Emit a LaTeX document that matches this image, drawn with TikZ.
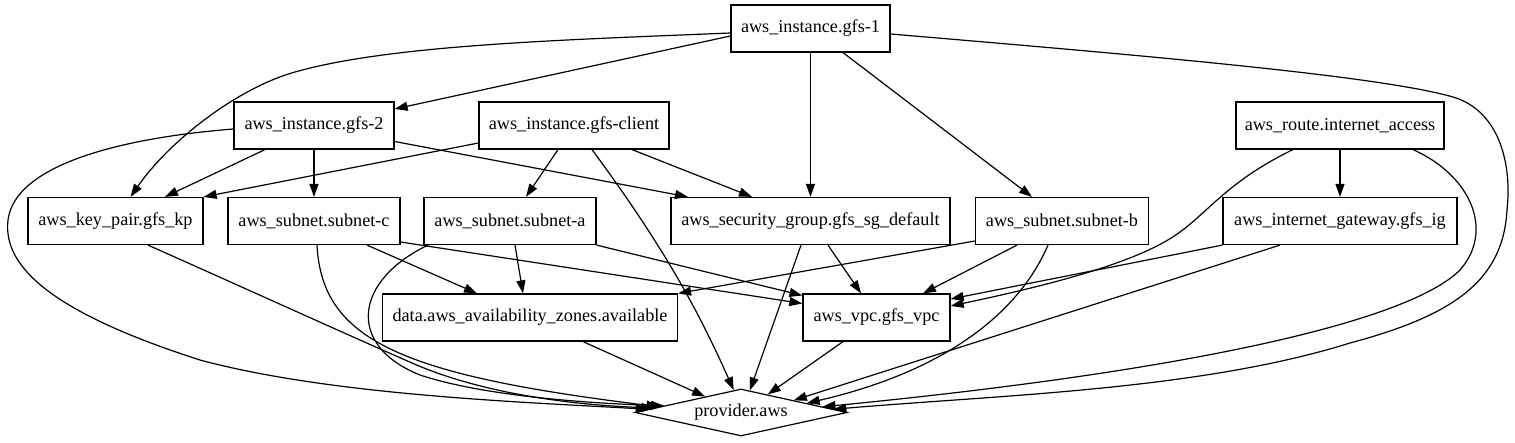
\documentclass[tikz,border=0pt]{standalone}
\usepackage{fontspec}
\setmainfont{Liberation Serif}
\usetikzlibrary{calc,arrows.meta,shapes.geometric}
\newcommand\gvfont{\fontsize{18.2pt}{22pt}\selectfont}
\tikzset{
  box/.style={draw, rectangle, minimum height=47pt, inner sep=0pt, font=\gvfont, line width=1.2pt},
  gvedge/.style={draw, line width=1.2pt, -{Triangle[length=13pt,width=9pt]}},
}
\begin{document}
\begin{tikzpicture}[x=1pt,y=-1pt]
\fill[white] (0,0) rectangle (1515,443);
\useasboundingbox (0,0) rectangle (1515,443);
% nodes
\node[box, minimum width=159pt] (g1) at (810.5,28.5) {aws\_instance.gfs-1};
\node[box, minimum width=160pt] (g2) at (314,125.5) {aws\_instance.gfs-2};
\node[box, minimum width=190pt] (gc) at (574,125.5) {aws\_instance.gfs-client};
\node[box, minimum width=208pt] (rt) at (1340,125.5) {aws\_route.internet\_access};
\node[box, minimum width=175pt] (kp) at (115.5,221) {aws\_key\_pair.gfs\_kp};
\node[box, minimum width=172pt] (sc) at (314,221) {aws\_subnet.subnet-c};
\node[box, minimum width=172pt] (sa) at (510,221) {aws\_subnet.subnet-a};
\node[box, minimum width=279pt] (sg) at (810.5,221) {aws\_security\_group.gfs\_sg\_default};
\node[box, minimum width=173pt] (sb) at (1062,221) {aws\_subnet.subnet-b};
\node[box, minimum width=234pt] (ig) at (1340,221) {aws\_internet\_gateway.gfs\_ig};
\node[box, minimum width=295pt] (az) at (530,317.5) {data.aws\_availability\_zones.available};
\node[box, minimum width=147pt] (vpc) at (876.5,317.5) {aws\_vpc.gfs\_vpc};
\node[diamond, draw, line width=1.2pt, aspect=4.5, minimum width=212pt, minimum height=47pt, inner sep=0pt, font=\gvfont] (prov) at (741,412.5) {provider.aws};
% edges from gfs-1
\draw[gvedge] ($(g1.west)+(0,7.5)$) -- ($(g2.east)+(0,-16.5)$);
\draw[gvedge] ($(g1.west)+(0,4.5)$) .. controls (560,40) and (390,45) .. (295,72) .. controls (238,88) and (170,140) .. ($(kp.north)+(15,0)$);
\draw[gvedge] (g1.south) -- (sg.north);
\draw[gvedge] ($(g1.south)+(32.5,0)$) -- ($(sb.north)+(-30,0)$);
\draw[gvedge] ($(g1.east)+(0,5.5)$) .. controls (1150,56) and (1380,76) .. (1453,97) .. controls (1500,111) and (1512,165) .. (1507,210) .. controls (1503,280) and (1455,315) .. (1350,343) .. controls (1200,390) and (1000,395) .. (prov.2);
% edges from gfs-2
\draw[gvedge] ($(g2.south)+(-49,0)$) -- ($(kp.north)+(49.5,0)$);
\draw[gvedge] (g2.south) -- (sc.north);
\draw[gvedge] ($(g2.east)+(0,16)$) -- ($(sg.north)+(-122.5,0)$);
\draw[gvedge] ($(g2.west)+(0,3.5)$) .. controls (120,138) and (15,165) .. (8,220) .. controls (2,270) and (60,315) .. (200,360) .. controls (330,395) and (520,402) .. (prov.178);
% key pair
\draw[gvedge] ($(kp.south)+(32.5,0)$) .. controls (240,286) and (330,327) .. (412,363) .. controls (480,393) and (570,405) .. (prov.177);
% subnet-c
\draw[gvedge] ($(sc.south)+(3,0)$) .. controls (322,340) and (400,375) .. (prov.176);
\draw[gvedge] ($(sc.south)+(53,0)$) -- ($(az.north)+(-53,0)$);
\draw[gvedge] ($(sc.east)+(0,21)$) -- ($(vpc.west)+(0,-14)$);
% subnet-a
\draw[gvedge] ($(sa.south)+(-82,0)$) .. controls (355,280) and (345,345) .. (420,375) .. controls (480,395) and (580,403) .. (prov.175);
\draw[gvedge] ($(sa.south)+(5,0)$) -- ($(az.north)+(-7,0)$);
\draw[gvedge] (sa.south east) -- ($(vpc.west)+(0,-22)$);
% gfs-client
\draw[gvedge] ($(gc.west)+(0,17.5)$) -- (kp.north east);
\draw[gvedge] ($(gc.south)+(-16,0)$) -- ($(sa.north)+(16,0)$);
\draw[gvedge] ($(gc.south)+(58,0)$) -- ($(sg.north)+(-58.5,0)$);
\draw[gvedge] ($(gc.south)+(18,0)$) .. controls (670,255) and (702.5,320.5) .. (prov.108);
% security group
\draw[gvedge] ($(sg.south)+(-9.5,0)$) -- (prov.68);
\draw[gvedge] ($(sg.south)+(17.5,0)$) -- ($(vpc.north)+(-15.5,0)$);
% subnet-b
\draw[gvedge] ($(sb.west)+(0,20)$) -- (az.north east);
\draw[gvedge] ($(sb.south)+(-45,0)$) -- ($(vpc.north)+(46.5,0)$);
\draw[gvedge] ($(sb.south)+(-14,0)$) .. controls (1020,310) and (950,370) .. (prov.8);
% route
\draw[gvedge] (rt.south) -- (ig.north);
\draw[gvedge] ($(rt.south)+(-47,0)$) .. controls (1230,180) and (1210,210) .. (1180,232) .. controls (1140,262) and (1050,285) .. ($(vpc.east)+(0,-11.5)$);
\draw[gvedge] ($(rt.south)+(73,0)$) .. controls (1470,175) and (1495,230) .. (1460,270) .. controls (1410,320) and (1200,370) .. (prov.4);
% internet gateway
\draw[gvedge] (ig.south west) -- ($(vpc.east)+(0,-18.5)$);
\draw[gvedge] ($(ig.south)+(-60,0)$) -- (prov.13);
% az and vpc
\draw[gvedge] ($(az.south)+(53,0)$) -- (prov.156);
\draw[gvedge] ($(vpc.south)+(-33.5,0)$) -- (prov.34);
\end{tikzpicture}
\end{document}
